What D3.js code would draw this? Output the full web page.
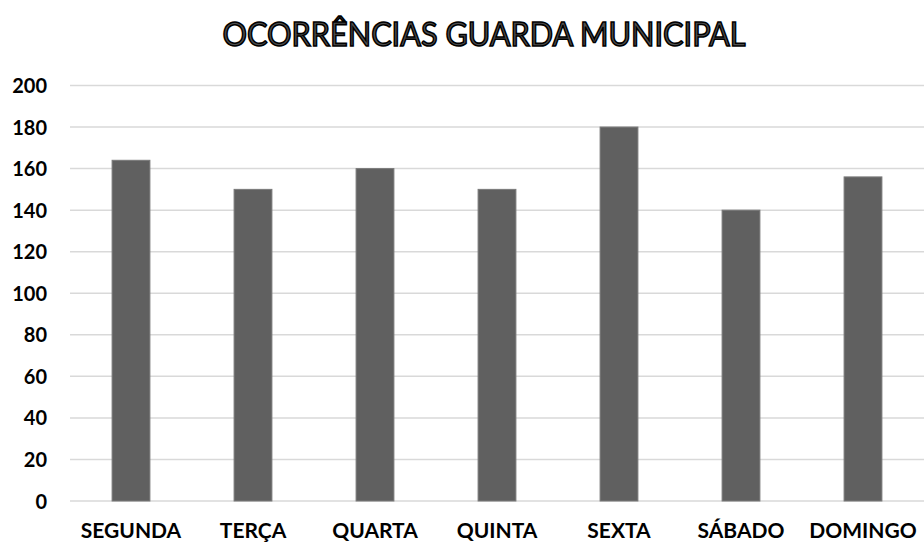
<!DOCTYPE html>
<html><head><meta charset="utf-8">
<script src="https://cdn.jsdelivr.net/npm/d3@7"></script>
<style>body{margin:0;background:#fff}svg{display:block}</style>
</head><body>
<svg id="c" width="924" height="544"></svg>
<script>
const categories = ["SEGUNDA","TERÇA","QUARTA","QUINTA","SEXTA","SÁBADO","DOMINGO"];
const values = [164,150,160,150,180,140,156];
const yTicks = [0,20,40,60,80,100,120,140,160,180,200];
const title = "OCORRÊNCIAS GUARDA MUNICIPAL";

(function(){
const svg = d3.select("#c");
const pl = 70, pr = 924, pt = 85.5, pb = 501;
const x = d3.scaleBand().domain(categories).range([pl,pr]).paddingInner(0.69).paddingOuter(0.345);
const y = d3.scaleLinear().domain([0,200]).range([pb,pt]);

svg.append("g").selectAll("line").data(yTicks).join("line")
  .attr("x1",pl).attr("x2",pr)
  .attr("y1",d=>y(d)).attr("y2",d=>y(d))
  .attr("stroke","#d9d9d9").attr("stroke-width",1.5);

const yAxis = d3.axisLeft(y).tickValues(yTicks).tickSize(0).tickPadding(0);
const ga = svg.append("g").attr("transform","translate(47,0)").call(yAxis);
ga.select(".domain").remove();
ga.selectAll("text").attr("font-family","Lato, sans-serif").attr("font-weight","bold")
  .attr("font-size","20px").attr("fill","#000").attr("dy","0.35em");

svg.append("g").selectAll("rect").data(values).join("rect")
  .attr("x",(d,i)=>x(categories[i])).attr("width",x.bandwidth())
  .attr("y",d=>y(d)).attr("height",d=>y(0)-y(d))
  .attr("fill","#606060").attr("stroke","#7a7a7a").attr("stroke-width",1);

const xAxis = d3.axisBottom(x).tickSize(0).tickPadding(0);
const gx = svg.append("g").attr("transform","translate(0,531)").call(xAxis);
gx.select(".domain").remove();
gx.selectAll("text").attr("font-family","Lato, sans-serif").attr("font-weight","bold")
  .attr("font-size","21px").attr("fill","#000").attr("dy","0.35em").attr("y",0);

svg.append("text").attr("x",484).attr("y",46).attr("text-anchor","middle")
  .attr("font-family","Lato, sans-serif").attr("font-weight","normal").attr("font-size","33px")
  .attr("fill","#505050").attr("stroke","#000").attr("stroke-width",1.6)
  .attr("textLength",523).attr("lengthAdjust","spacingAndGlyphs")
  .text(title);
})();
</script>
</body></html>
